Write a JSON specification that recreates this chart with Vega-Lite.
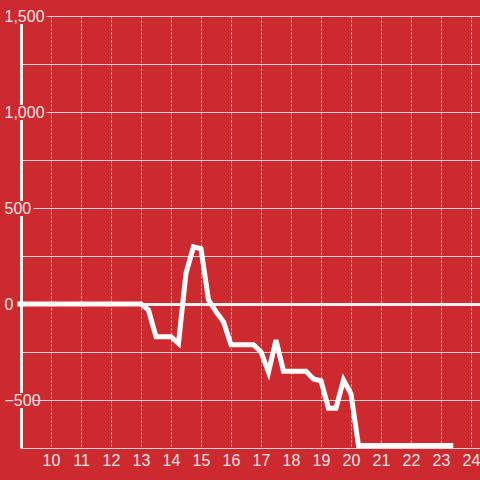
{
  "$schema": "https://vega.github.io/schema/vega-lite/v6.json",
  "autosize": "none",
  "width": 459,
  "height": 432,
  "padding": {"left": 21, "top": 16, "right": 0, "bottom": 32},
  "background": "#cd2a2f",
  "config": {
    "view": {"stroke": null},
    "axis": {"labelFont": "Liberation Sans", "labelFontSize": 16, "labelColor": "#f3e4e4", "title": null}
  },
  "data": {
    "values": [
      {"t": 8.88, "v": 0},
      {"t": 13.0, "v": 0},
      {"t": 13.25, "v": -31},
      {"t": 13.5, "v": -170},
      {"t": 14.0, "v": -170},
      {"t": 14.25, "v": -205},
      {"t": 14.5, "v": 160},
      {"t": 14.75, "v": 298},
      {"t": 15.0, "v": 288},
      {"t": 15.25, "v": 21},
      {"t": 15.5, "v": -40},
      {"t": 15.75, "v": -92},
      {"t": 16.0, "v": -212},
      {"t": 16.75, "v": -212},
      {"t": 17.0, "v": -250},
      {"t": 17.25, "v": -355},
      {"t": 17.5, "v": -188},
      {"t": 17.75, "v": -350},
      {"t": 18.5, "v": -350},
      {"t": 18.75, "v": -390},
      {"t": 19.0, "v": -400},
      {"t": 19.25, "v": -543},
      {"t": 19.5, "v": -543},
      {"t": 19.75, "v": -396},
      {"t": 20.0, "v": -468},
      {"t": 20.25, "v": -737},
      {"t": 23.41, "v": -737}
    ]
  },
  "mark": {"type": "line", "color": "#ffffff", "strokeWidth": 5, "strokeJoin": "miter"},
  "encoding": {
    "x": {
      "field": "t",
      "type": "quantitative",
      "scale": {"domain": [9, 24.3], "nice": false, "zero": false},
      "axis": {
        "values": [10, 11, 12, 13, 14, 15, 16, 17, 18, 19, 20, 21, 22, 23, 24],
        "grid": true,
        "gridDash": [2, 2],
        "gridColor": "#e2e2e2",
        "gridWidth": 1,
        "domain": true,
        "domainColor": "#d8d8d8",
        "domainWidth": 1,
        "ticks": false,
        "tickSize": 0,
        "labelPadding": 4,
        "labelFlush": false
      }
    },
    "y": {
      "field": "v",
      "type": "quantitative",
      "scale": {"domain": [-750, 1500], "nice": false, "zero": false},
      "axis": {
        "values": [-750, -500, -250, 0, 250, 500, 750, 1000, 1250, 1500],
        "labelExpr": "datum.value % 500 === 0 ? datum.label : ''",
        "grid": true,
        "gridColor": {"condition": {"test": "datum.value === 0", "value": "#f0f0f0"}, "value": "#d6d6d6"},
        "gridWidth": {"condition": {"test": "datum.value === 0", "value": 3}, "value": 1},
        "gridDash": {
          "condition": [
            {"test": "datum.value === 1500 || datum.value === 1000", "value": [0, 25, 1000]},
            {"test": "datum.value === 500 || datum.value === -500", "value": [0, 12, 1000]}
          ],
          "value": []
        },
        "domain": true,
        "domainColor": "#f0f0f0",
        "domainWidth": 3,
        "domainDash": [40.5, 15, 177, 15, 81, 15, 81, 10],
        "ticks": false,
        "tickSize": 0,
        "labelAlign": "left",
        "labelBaseline": "middle",
        "labelPadding": 17,
        "labelFlush": false
      }
    }
  }
}
